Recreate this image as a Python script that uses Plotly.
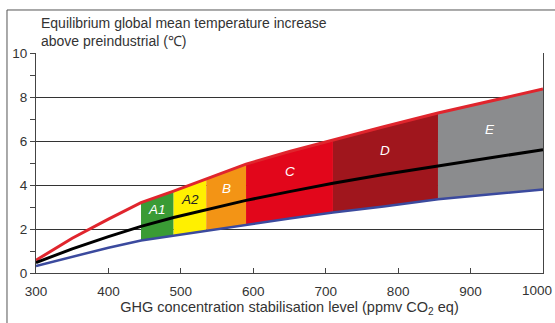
import numpy as np
import plotly.graph_objects as go

# GHG stabilisation level (ppmv CO2 eq)
ppm = [300, 350, 400, 445, 490, 535, 590, 650, 710, 780, 855, 930, 1000]
# Equilibrium warming above preindustrial (deg C)
upper = [0.58, 1.58, 2.45, 3.2, 3.72, 4.28, 4.95, 5.52, 6.05, 6.65, 7.27, 7.85, 8.36]
best = [0.47, 1.1, 1.65, 2.12, 2.52, 2.88, 3.3, 3.7, 4.08, 4.48, 4.88, 5.25, 5.6]
lower = [0.32, 0.75, 1.15, 1.48, 1.7, 1.9, 2.2, 2.48, 2.75, 3.02, 3.35, 3.6, 3.8]

# Stabilisation categories and their concentration ranges
categories = ["A1", "A2", "B", "C", "D", "E"]
cat_lo = [445, 490, 535, 590, 710, 855]
cat_hi = [490, 535, 590, 710, 855, 1000]
cat_colors = ["#3a9b35", "#fff000", "#f39415", "#e2061b", "#a0161d", "#8b8c8e"]
label_colors = ["#ffffff", "#222222", "#ffffff", "#ffffff", "#ffffff", "#ffffff"]

x_ticks = [300, 400, 500, 600, 700, 800, 900, 1000]
x_tick_text = ["300", "400", "500", "600", "700", "800", "900", "1000"]
y_ticks = [0, 2, 4, 6, 8, 10]

FONT = "Liberation Sans, Arial, Helvetica, sans-serif"
TICK_SIZE = 13.5

fig = go.Figure()

# Coloured bands between lower and upper estimate
for name, lo, hi, col in zip(categories, cat_lo, cat_hi, cat_colors):
    xs = np.array([lo] + [p for p in ppm if lo < p < hi] + [hi], dtype=float)
    top = np.interp(xs, ppm, upper)
    bot = np.interp(xs, ppm, lower)
    fig.add_trace(go.Scatter(
        x=np.concatenate([xs, xs[::-1]]),
        y=np.concatenate([top, bot[::-1]]),
        fill="toself", fillcolor=col, mode="none",
        hoverinfo="skip", showlegend=False,
    ))

# Curves
fig.add_trace(go.Scatter(x=ppm, y=lower, mode="lines",
                         line=dict(color="#3b4a9e", width=2.5), showlegend=False))
fig.add_trace(go.Scatter(x=ppm, y=upper, mode="lines",
                         line=dict(color="#e0252d", width=3), showlegend=False))
fig.add_trace(go.Scatter(x=ppm, y=best, mode="lines",
                         line=dict(color="#000000", width=3), showlegend=False))

# Category labels, centred in each band between best estimate and upper curve
for name, lo, hi, lc in zip(categories, cat_lo, cat_hi, label_colors):
    xc = (lo + hi) / 2
    yc = (np.interp(xc, ppm, best) + np.interp(xc, ppm, upper)) / 2
    fig.add_annotation(x=xc, y=yc, text="<i>" + name + "</i>", showarrow=False,
                       font=dict(family=FONT, size=13.5, color=lc))

# The last x tick label is pulled left so it stays inside the page
fig.add_annotation(x=x_ticks[-1], y=0, yref="y", xanchor="right", yanchor="top",
                   xshift=11, yshift=-8, text=x_tick_text[-1], showarrow=False,
                   font=dict(family=FONT, size=TICK_SIZE, color="#333333"))

# Axis title at the top left
fig.add_annotation(xref="paper", yref="paper", x=0.006, y=1.135, xanchor="left", yanchor="middle",
                   text="Equilibrium global mean temperature increase", showarrow=False,
                   font=dict(family=FONT, size=14, color="#333333"))
fig.add_annotation(xref="paper", yref="paper", x=0.006, y=1.055, xanchor="left", yanchor="middle",
                   text="above preindustrial (℃)", showarrow=False,
                   font=dict(family=FONT, size=14, color="#333333"))

# Outer frame
fig.add_shape(type="rect", xref="paper", yref="paper",
              x0=-0.0572, x1=1.03, y0=-0.3, y1=1.1955,
              line=dict(color="#555555", width=1), fillcolor="rgba(0,0,0,0)", layer="below")

fig.update_layout(
    width=555, height=323,
    margin=dict(l=36, r=12, t=53, b=50),
    paper_bgcolor="white", plot_bgcolor="white",
    font=dict(family=FONT, size=TICK_SIZE, color="#333333"),
    xaxis=dict(
        range=[300, 1000], tickvals=x_ticks,
        ticktext=x_tick_text[:-1] + [""],
        ticks="inside", ticklen=5,
        tickcolor="#444444", showline=True, linecolor="#444444", linewidth=1,
        showgrid=False, zeroline=False, ticklabelstandoff=6,
        automargin=False,
        title=dict(text="GHG concentration stabilisation level (ppmv CO<sub>2</sub> eq)",
                   font=dict(family=FONT, size=14.5, color="#333333"), standoff=3),
    ),
    yaxis=dict(
        range=[0, 10], tickvals=y_ticks, ticks="outside", ticklen=5,
        tickcolor="#444444", showline=True, linecolor="#444444", linewidth=1,
        mirror=True, showgrid=True, gridcolor="#333333", gridwidth=1,
        zeroline=False, automargin=False,
        minor=dict(tickvals=[1, 3, 5, 7, 9], ticks="outside", ticklen=5,
                   tickcolor="#444444", showgrid=False),
    ),
)

fig.write_html("out.html")
